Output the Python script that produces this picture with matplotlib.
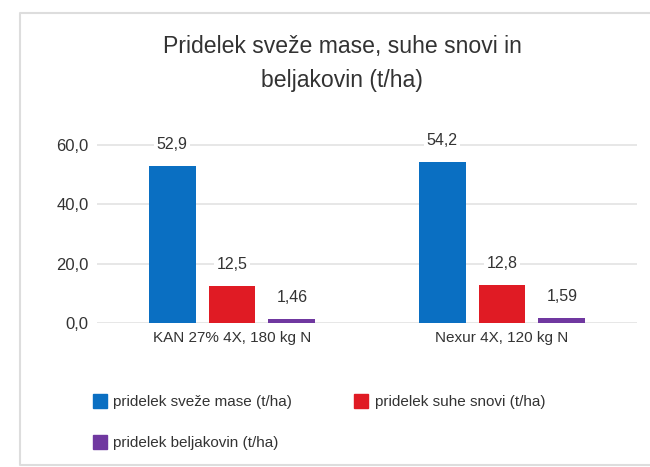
import matplotlib.pyplot as plt
import numpy as np
from matplotlib.lines import Line2D

plt.rcParams['font.family'] = ['Liberation Sans Narrow', 'Liberation Sans', 'DejaVu Sans']

categories = ['KAN 27% 4X, 180 kg N', 'Nexur 4X, 120 kg N']
series = ['pridelek sveže mase (t/ha)', 'pridelek suhe snovi (t/ha)', 'pridelek beljakovin (t/ha)']
fresh = [52.9, 54.2]
dry = [12.5, 12.8]
protein = [1.46, 1.59]
labels = [['52,9', '54,2'], ['12,5', '12,8'], ['1,46', '1,59']]
colors = ['#0a6fc2', '#e01b24', '#7038a0']
yticks = [0, 20, 40, 60]

fig = plt.figure(figsize=(6.5, 4.67), dpi=100)
# light frame around the chart (top, left, bottom)
fx = [1.2, 20 / 650, 20 / 650, 1.2]
fy = [1 - 13 / 467, 1 - 13 / 467, 1 - 465 / 467, 1 - 465 / 467]
fig.add_artist(Line2D(fx, fy, transform=fig.transFigure, color='#dddddd', lw=1.5))

ax = fig.add_axes([97 / 650, 1 - 323 / 467, 540 / 650, (323 - 145) / 467 * 66 / 60])
ax.set_facecolor('none')

x = np.arange(len(categories))
w = 0.174
step = 0.222
for i, vals in enumerate([fresh, dry, protein]):
    ax.bar(x + (i - 1) * step, vals, w, color=colors[i], label=series[i], zorder=3)
    for j, v in enumerate(vals):
        ax.text(x[j] + (i - 1) * step, v + 7.3, labels[i][j], ha='center', va='center',
                fontsize=11.5, color='#333333', zorder=4,
                bbox=dict(facecolor='white', edgecolor='none', pad=2))

ax.set_xlim(-0.5, 1.5)
ax.set_ylim(0, 66)
ax.set_yticks(yticks)
ax.set_yticklabels([f'{t:.1f}'.replace('.', ',') for t in yticks], fontsize=12, color='#333333')
ax.set_xticks(x)
ax.set_xticklabels(categories, fontsize=11, color='#333333')
ax.tick_params(length=0, pad=6)
ax.yaxis.grid(True, color='#e3e3e3', lw=1.2, zorder=0)
for s in ax.spines.values():
    s.set_visible(False)

fig.text(342 / 650, 1 - 46 / 467, 'Pridelek sveže mase, suhe snovi in', ha='center', va='center',
         fontsize=16.6, color='#333333')
fig.text(342 / 650, 1 - 81 / 467, 'beljakovin (t/ha)', ha='center', va='center',
         fontsize=16.6, color='#333333')

order = [0, 2, 1]
handles = [Line2D([], [], ls='none', marker='s', markersize=10, color=colors[k]) for k in order]
fig.legend(handles, [series[k] for k in order], ncol=2,
           loc='upper left', bbox_to_anchor=(92 / 650, 1 - 395 / 467), frameon=False,
           borderpad=0, borderaxespad=0,
           fontsize=11, handlelength=1.0, handletextpad=0.4,
           columnspacing=4.0, labelspacing=1.8, labelcolor='#333333')

fig.savefig('out.png', dpi=100)
